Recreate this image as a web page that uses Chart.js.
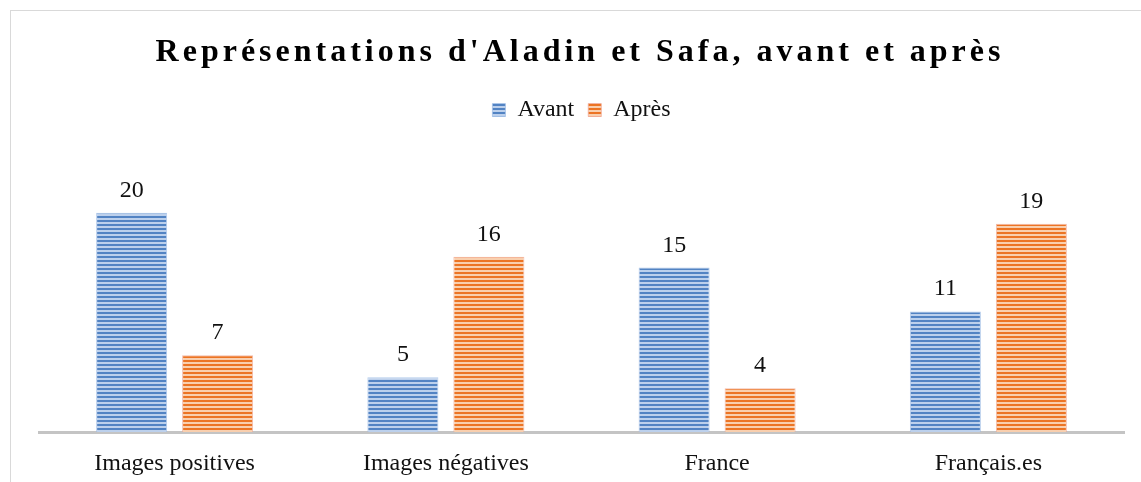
<!DOCTYPE html>
<html>
<head>
<meta charset="utf-8">
<script src="https://cdn.jsdelivr.net/npm/chart.js@4/dist/chart.umd.min.js"></script>
<style>
  html, body { margin: 0; padding: 0; background: #fff; overflow: hidden; }
  #frame { position: absolute; left: 10px; top: 10px; width: 1200px; height: 500px;
           border-left: 1px solid #d9d9d9; border-top: 1px solid #d9d9d9; }
  #wrap { position: absolute; left: 0; top: 0; width: 1141px; height: 482px; }
</style>
</head>
<body>
<div id="frame"></div>
<div id="wrap"><canvas id="chart"></canvas></div>
<script>
  var chartTitle = "Représentations d'Aladin et Safa, avant et après";
  var categories = ['Images positives', 'Images négatives', 'France', 'Français.es'];
  var seriesNames = ['Avant', 'Après'];
  var avant = [20, 5, 15, 11];
  var apres = [7, 16, 4, 19];

  var serif = '"Liberation Serif", "Times New Roman", serif';

  function stripes(dark, light) {
    var c = document.createElement('canvas');
    c.width = 4;
    c.height = 4;
    var g = c.getContext('2d');
    g.fillStyle = light;
    g.fillRect(0, 0, 4, 4);
    g.fillStyle = dark;
    g.fillRect(0, 0, 4, 2);
    return g.createPattern(c, 'repeat');
  }

  var bluePattern = stripes('#5283c3', '#bcd0ec');
  var orangePattern = stripes('#ec7424', '#f9cfae');

  // title with letter spacing, drawn by hand
  var titlePlugin = {
    id: 'spacedTitle',
    afterDraw: function (chart) {
      var ctx = chart.ctx;
      ctx.save();
      ctx.font = 'bold 32px ' + serif;
      ctx.letterSpacing = '4px';
      ctx.fillStyle = '#000';
      ctx.textAlign = 'center';
      ctx.textBaseline = 'alphabetic';
      ctx.fillText(chartTitle, 580, 61);
      ctx.restore();
    },
  };

  // value labels above each bar
  var valueLabels = {
    id: 'valueLabels',
    afterDatasetsDraw: function (chart) {
      var ctx = chart.ctx;
      ctx.save();
      ctx.font = '24px ' + serif;
      ctx.fillStyle = '#111';
      ctx.textAlign = 'center';
      ctx.textBaseline = 'alphabetic';
      chart.data.datasets.forEach(function (ds, i) {
        chart.getDatasetMeta(i).data.forEach(function (bar, j) {
          ctx.fillText(String(ds.data[j]), bar.x, bar.y - 16);
        });
      });
      ctx.restore();
    },
  };

  // extra gap between legend and plot area
  var legendGap = {
    id: 'legendGap',
    beforeLayout: function (chart) {
      var lg = chart.legend;
      if (!lg || lg._gapPatched) return;
      var fit = lg.fit;
      lg.fit = function () {
        fit.call(this);
        this.height += 26;
      };
      lg._gapPatched = true;
    },
  };

  new Chart(document.getElementById('chart'), {
    type: 'bar',
    data: {
      labels: categories,
      datasets: [
        {
          label: seriesNames[0],
          data: avant,
          backgroundColor: bluePattern,
          borderColor: 'rgba(160, 190, 230, 0.8)',
          borderWidth: 1,
          categoryPercentage: 0.634,
          barPercentage: 0.826,
        },
        {
          label: seriesNames[1],
          data: apres,
          backgroundColor: orangePattern,
          borderColor: 'rgba(240, 170, 150, 0.8)',
          borderWidth: 1,
          categoryPercentage: 0.634,
          barPercentage: 0.826,
        },
      ],
    },
    options: {
      responsive: true,
      maintainAspectRatio: false,
      animation: false,
      layout: { padding: { top: 84, left: 39, right: 17, bottom: 0 } },
      plugins: {
        title: { display: false },
        tooltip: { enabled: false },
        legend: {
          position: 'top',
          labels: {
            color: '#111',
            boxWidth: 13,
            boxHeight: 13,
            padding: 14,
            font: { family: serif, size: 24 },
          },
        },
      },
      scales: {
        x: {
          grid: { display: false },
          border: { display: true, color: '#c4c4c4', width: 3 },
          ticks: { color: '#111', padding: 9, font: { family: serif, size: 24 } },
          afterFit: function (scale) {
            scale.height = 50;
          },
        },
        y: {
          display: false,
          min: 0,
          max: 25,
        },
      },
    },
    plugins: [titlePlugin, valueLabels, legendGap],
  });
</script>
</body>
</html>
